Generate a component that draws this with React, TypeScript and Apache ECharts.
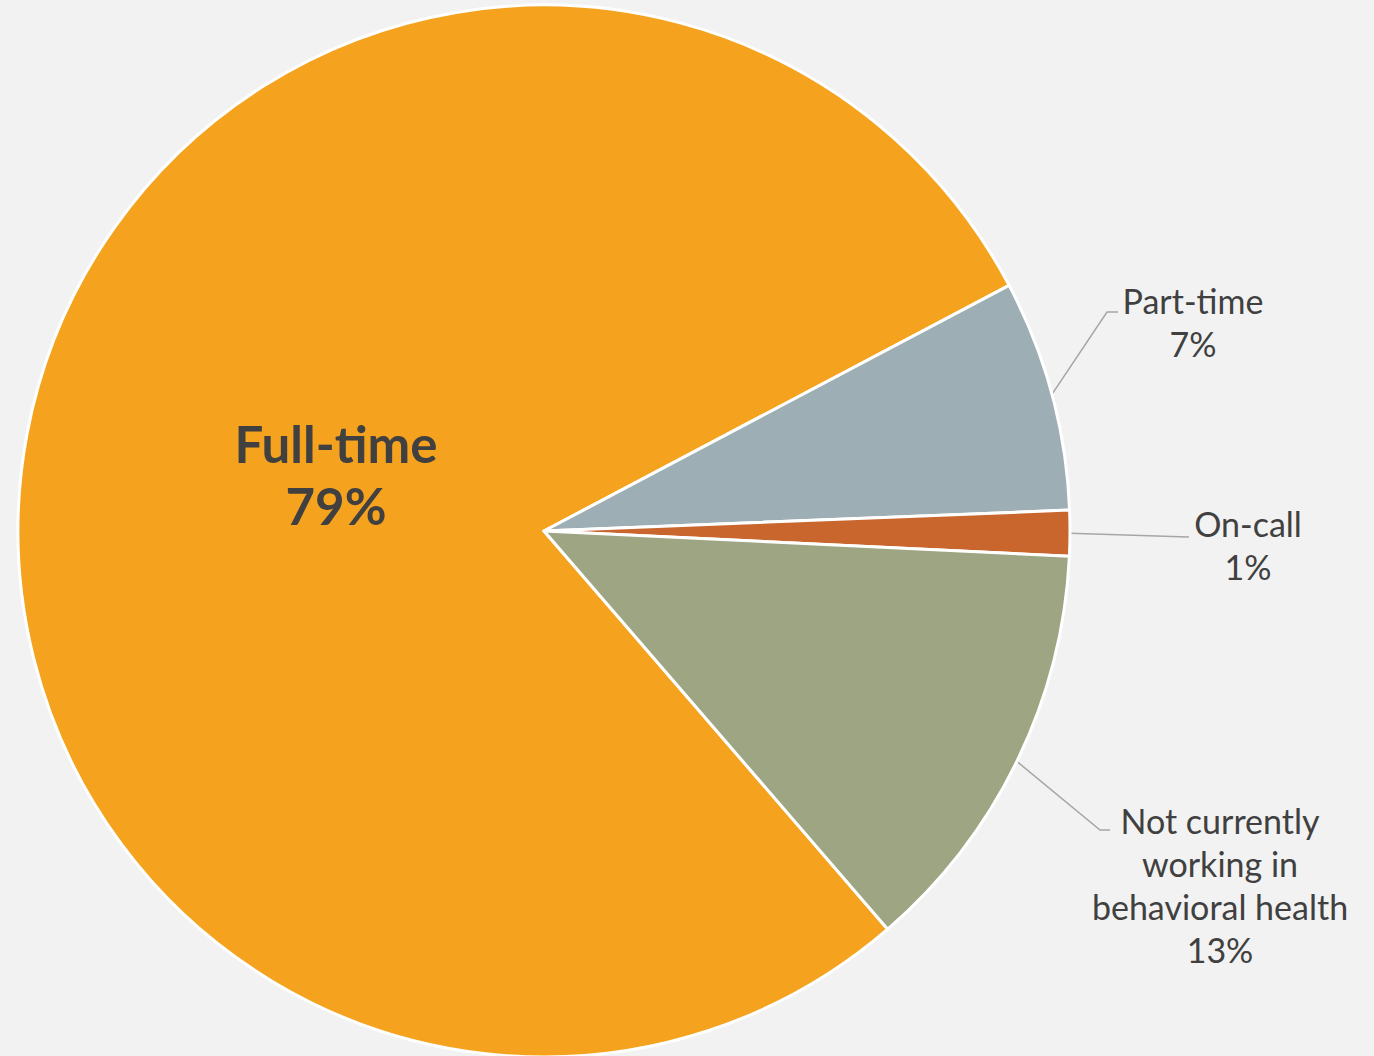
import React, { useEffect, useRef } from "react";
import * as echarts from "echarts";

const categories = ["Full-time", "Part-time", "On-call", "Not currently\nworking in\nbehavioral health"];
const values = [78.6, 7.1, 1.4, 12.9];
const colors = ["#F5A31E", "#9DAFB5", "#C8662E", "#9DA583"];

// label anchor positions (text block centre) and leader-line bends
const labelPos: Array<{ x: number; y: number; bend?: number[][] }> = [
  { x: 336, y: 474 },
  { x: 1193, y: 322, bend: [[1107, 312], [1118, 312]] },
  { x: 1248, y: 545, bend: [[1188, 537], [1189, 537]] },
  { x: 1220, y: 885, bend: [[1100, 830], [1110, 830]] },
];

export default function App() {
  const ref = useRef<HTMLDivElement>(null);
  useEffect(() => {
    const chart = echarts.init(ref.current!, null, { renderer: "svg" });
    chart.setOption({
      animation: false,
      backgroundColor: "#F2F2F2",
      series: [
        {
          type: "pie",
          center: [544, 531],
          radius: [0, 526],
          startAngle: 310.8,
          clockwise: true,
          avoidLabelOverlap: false,
          itemStyle: { borderColor: "#FFFFFF", borderWidth: 3 },
          label: {
            show: true,
            position: "outside",
            color: "#404040",
            fontFamily: "Lato",
            fontSize: 34,
            lineHeight: 43,
            align: "center",
            formatter: (p: any) => p.name + "\n" + Math.round(p.value) + "%",
          },
          labelLine: {
            show: true,
            lineStyle: { color: "#A6A6A6", width: 1.5 },
          },
          labelLayout: (params: any) => {
            const pos = labelPos[params.dataIndex];
            const res: any = { x: pos.x, y: pos.y, align: "center", verticalAlign: "middle" };
            if (pos.bend && params.labelLinePoints) {
              res.labelLinePoints = [params.labelLinePoints[0], pos.bend[0], pos.bend[1]];
            }
            return res;
          },
          data: categories.map((name, i) => {
            const item: any = { name, value: values[i], itemStyle: { color: colors[i] } };
            if (i === 0) {
              item.label = { position: "inside", fontWeight: "bold", fontSize: 51, lineHeight: 62 };
              item.labelLine = { show: false };
            }
            return item;
          }),
        },
      ],
    });
    return () => chart.dispose();
  }, []);
  return (
    <div
      ref={ref}
      style={{ position: "fixed", left: 0, top: 0, width: 1374, height: 1056 }}
    />
  );
}
